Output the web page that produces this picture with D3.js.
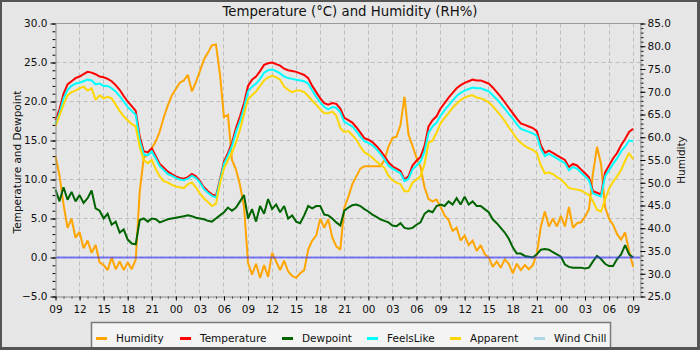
<!DOCTYPE html>
<html><head><meta charset="utf-8">
<script src="https://cdn.jsdelivr.net/npm/d3@7"></script>
<style>
html,body{margin:0;padding:0;background:#e6e6e6;}
svg{display:block;font-family:"DejaVu Sans",sans-serif;}
</style></head><body>
<svg id="chart" width="700" height="350"></svg>
<script>
// ---- data (readings every 30 minutes from 09:00) ----
const startTime = new Date(2024, 0, 1, 9, 0, 0);
const stepMinutes = 30;
const titleText = "Temperature (\u00B0C) and Humidity (RH%)";
const leftAxisTitle = "Temperature and Dewpoint";
const rightAxisTitle = "Humidity";
const seriesNames = ["Humidity", "Temperature", "Dewpoint", "FeelsLike", "Apparent", "Wind Chill"];
const tempTicks = [-5, 0, 5, 10, 15, 20, 25, 30];
const humTicks = [25, 30, 35, 40, 45, 50, 55, 60, 65, 70, 75, 80, 85];

const humidity = [
 55.9,51.6,45.2,40.1,42.1,37.9,39.2,35.6,37.3,34.6,
 36.3,32.5,31.9,30.8,33.6,31.0,32.7,30.8,32.5,31.0,
 33.1,48.1,55.5,56.2,57.6,59.1,61.3,64.4,67.0,69.2,
 70.6,72.0,72.5,73.7,70.1,72.1,74.5,77.1,78.6,80.2,
 80.4,73.9,64.4,64.9,55.0,52.9,49.5,44.7,32.4,29.8,
 32.2,29.1,31.9,29.3,34.6,32.7,30.8,32.9,30.5,29.5,
 29.1,30.1,30.8,35.3,37.3,38.4,42.1,40.1,42.0,38.0,
 36.0,35.3,44.5,46.9,49.7,51.4,53.1,53.6,53.6,53.6,
 53.6,53.6,55.0,57.9,59.8,60.1,62.7,68.9,60.6,58.1,
 55.5,53.5,49.0,46.4,45.9,46.3,44.7,42.8,41.8,39.4,
 40.1,37.3,38.4,36.3,37.3,35.0,36.3,34.3,33.6,31.5,
 32.7,31.3,33.2,32.2,30.1,32.2,30.8,31.9,31.0,31.9,
 34.4,40.4,43.7,40.4,42.1,40.4,42.7,40.4,44.7,40.1,
 41.1,41.3,42.5,44.2,52.1,57.9,54.1,44.7,42.1,40.8,
 38.7,37.5,39.1,35.0,31.5];

const temperature = [
 17.6,19.0,21.0,22.2,22.6,23.0,23.2,23.5,23.8,23.7,
 23.5,23.2,23.1,22.9,22.6,22.1,21.5,20.7,20.0,19.4,
 18.8,15.5,13.6,13.5,14.0,13.0,12.0,11.5,11.0,10.7,
 10.4,10.2,10.1,10.3,10.7,10.4,9.8,9.0,8.5,8.1,
 7.9,10.0,12.3,13.4,14.7,16.6,18.1,19.8,22.0,22.8,
 23.2,23.9,24.7,24.9,25.0,24.8,24.6,24.2,24.0,23.9,
 23.8,23.6,23.4,23.0,22.0,21.2,20.4,19.8,19.6,19.8,
 19.7,19.1,17.9,17.6,17.3,16.7,16.0,15.3,15.1,14.8,
 14.3,13.7,13.0,12.2,11.7,11.4,11.1,10.0,10.4,11.8,
 12.4,12.9,14.3,16.8,17.6,18.1,19.1,19.8,20.5,21.1,
 21.7,22.1,22.4,22.6,22.8,22.7,22.7,22.5,22.3,21.8,
 21.2,20.6,19.9,19.2,18.5,17.8,17.2,17.0,16.8,16.6,
 16.2,14.4,13.4,13.7,13.4,13.1,12.8,12.5,11.6,12.0,
 11.8,11.3,10.8,10.3,8.5,8.3,8.1,10.9,11.8,12.7,
 13.4,14.4,15.2,16.1,16.5];

const dewpoint = [
 8.7,7.2,9.0,7.4,8.4,7.2,8.0,7.0,7.6,8.6,
 6.3,6.0,5.0,5.6,4.2,4.6,3.2,3.6,2.3,1.8,
 1.7,4.8,5.0,4.6,5.0,4.9,4.5,4.7,4.9,5.0,
 5.1,5.2,5.3,5.4,5.3,5.1,5.0,4.9,4.7,4.6,
 5.0,5.4,5.8,6.4,6.0,6.4,7.2,8.0,5.0,6.2,
 4.6,6.6,5.6,7.5,6.2,6.8,5.8,6.6,5.0,5.4,
 4.6,4.4,5.4,6.6,6.3,6.6,6.6,5.5,5.4,5.0,
 4.5,4.1,6.0,6.4,6.7,6.8,6.6,6.2,5.9,5.5,
 5.2,4.9,4.7,4.5,4.1,4.0,4.4,3.8,3.7,3.8,
 4.2,4.5,5.6,6.0,5.8,6.6,6.8,6.6,7.2,6.8,
 7.6,6.8,7.8,6.8,7.2,6.6,6.6,6.2,5.8,4.9,
 4.4,3.8,3.2,2.4,1.3,0.5,0.5,0.2,0.1,0.0,
 0.4,1.0,1.1,1.0,0.7,0.4,0.1,-0.9,-1.2,-1.3,
 -1.3,-1.3,-1.4,-1.3,-0.5,0.2,-0.2,-0.8,-1.1,-1.1,
 -0.2,0.4,1.6,0.4,0.0];

const feelsLike = [
 17.1,18.5,20.4,21.5,22.0,22.3,22.4,22.6,22.8,22.7,
 22.2,22.3,22.0,22.0,21.7,21.3,20.7,20.0,19.3,18.8,
 18.3,15.0,13.2,13.1,13.6,12.7,11.7,11.2,10.7,10.5,
 10.2,10.0,9.9,10.1,10.5,10.2,9.6,8.8,8.3,7.9,
 7.7,9.8,12.0,13.1,14.3,16.1,17.5,19.2,21.3,21.9,
 22.3,22.9,23.7,24.0,24.1,23.9,23.6,23.2,23.0,22.9,
 22.8,22.7,22.6,22.3,21.4,20.6,19.9,19.3,19.0,19.3,
 19.2,18.6,17.4,17.1,16.8,16.2,15.5,14.9,14.7,14.4,
 13.9,13.3,12.6,11.8,11.4,11.1,10.8,9.8,10.1,11.3,
 11.8,12.3,13.6,16.0,16.8,17.3,18.2,18.9,19.5,20.1,
 20.7,21.1,21.4,21.6,21.8,21.7,21.7,21.5,21.3,20.8,
 20.3,19.7,19.1,18.4,17.8,17.1,16.5,16.3,16.1,15.9,
 15.6,13.9,13.0,13.3,13.0,12.7,12.4,12.1,11.2,11.6,
 11.4,10.9,10.4,9.9,8.2,8.0,7.8,10.4,11.2,12.0,
 12.7,13.6,14.2,15.0,14.9];

const apparent = [
 16.8,18.2,19.6,20.8,21.2,21.4,21.7,21.9,21.4,21.7,
 20.2,20.8,20.4,20.6,20.4,19.6,18.8,18.1,17.6,17.1,
 16.8,14.2,12.5,12.1,12.5,11.3,10.4,9.8,9.6,9.3,
 9.1,9.0,8.9,9.4,9.6,9.0,8.2,7.6,7.1,6.6,
 6.9,9.5,11.4,12.5,13.4,14.8,16.4,18.4,20.3,20.8,
 21.3,22.0,22.7,23.1,23.3,23.1,22.8,21.9,21.5,21.2,
 21.4,21.4,21.2,20.7,20.1,19.6,19.0,18.5,18.5,18.7,
 18.2,16.6,16.1,16.2,15.7,15.1,14.2,13.5,13.2,12.8,
 12.3,11.9,11.5,10.5,9.9,9.6,9.4,8.5,8.5,9.6,
 10.0,10.4,12.0,14.7,15.0,16.0,17.2,17.9,18.5,19.2,
 19.7,20.2,20.5,20.7,20.8,20.5,20.4,20.2,19.9,19.4,
 18.8,18.2,17.5,16.7,16.0,15.2,14.7,14.3,14.0,13.8,
 13.4,11.8,10.8,10.9,10.7,10.3,10.0,9.5,8.9,8.8,
 8.7,8.6,8.3,8.0,7.2,6.1,5.9,7.4,8.8,9.7,
 10.4,11.2,12.4,13.4,12.6];

const windChill = []; // no visible wind chill readings in the reference

// ---- drawing ----
const colors = ["#ffa500", "#ff0000", "#006400", "#00ffff", "#ffd700", "#add8e6"];
const svg = d3.select("#chart");
const W = 700, H = 350;
const L = 55.5, R = 640.5, T = 23.5, B = 296.5;

svg.append("rect").attr("width", W).attr("height", H).attr("fill", "#555");
svg.append("rect").attr("x", 2).attr("y", 2).attr("width", W - 5).attr("height", H - 5).attr("fill", "#e6e6e6");

const times = temperature.map((_, i) => new Date(+startTime + i * stepMinutes * 60000));
const endTime = new Date(+startTime + 72.92 * 3600000);
const x = d3.scaleTime().domain([startTime, endTime]).range([L, R]);
const yT = d3.scaleLinear().domain([-5, 30]).range([B, T]);
const yH = d3.scaleLinear().domain([25, 85]).range([B, T]);

// grid
const grid = svg.append("g").attr("stroke", "#bdbdbd").attr("stroke-dasharray", "4,3").attr("stroke-width", 1);
x.ticks(d3.timeHour.every(3)).forEach(t => {
  const px = Math.round(x(t) - 0.5) + 0.5;
  if (px > L + 1 && px < R - 1)
    grid.append("line").attr("x1", px).attr("x2", px).attr("y1", T).attr("y2", B);
});
tempTicks.forEach(v => {
  if (v > -5 && v < 30)
    grid.append("line").attr("x1", L).attr("x2", R).attr("y1", yT(v)).attr("y2", yT(v));
});

// series
function drawSeries(values, yScale, color) {
  const pts = values.map((v, i) => [times[i], v]);
  svg.append("path").datum(pts)
    .attr("fill", "none").attr("stroke", color).attr("stroke-width", 2)
    .attr("stroke-linejoin", "miter").attr("stroke-miterlimit", 2)
    .attr("d", d3.line().x(d => x(d[0])).y(d => yScale(d[1])).curve(d3.curveLinear));
}
drawSeries(humidity, yH, colors[0]);
drawSeries(temperature, yT, colors[1]);
drawSeries(dewpoint, yT, colors[2]);
drawSeries(feelsLike, yT, colors[3]);
drawSeries(apparent, yT, colors[4]);
if (windChill.length) drawSeries(windChill, yT, colors[5]);

// zero line
svg.append("line").attr("x1", L).attr("x2", R).attr("y1", yT(0)).attr("y2", yT(0))
  .attr("stroke", "#3333ff").attr("stroke-opacity", 0.62).attr("stroke-width", 2);

// frame top
svg.append("line").attr("x1", L).attr("x2", R).attr("y1", T).attr("y2", T).attr("stroke", "#9a9a9a");

// axes
function styleAxis(g) {
  g.select(".domain").attr("stroke", "#8a8a8a");
  g.selectAll(".tick line").attr("stroke", "#000");
  g.selectAll("text").attr("fill", "#111").style("font-size", "10.5px").style("font-family", "DejaVu Sans, sans-serif");
}
// minor ticks
svg.append("g").attr("transform", `translate(${L},0)`)
  .call(d3.axisLeft(yT).tickValues(d3.range(-5, 31, 1)).tickSize(3).tickFormat(""))
  .call(g => { g.select(".domain").remove(); g.selectAll("line").attr("stroke", "#000"); });
svg.append("g").attr("transform", `translate(${R},0)`)
  .call(d3.axisRight(yH).tickValues(d3.range(25, 86, 1)).tickSize(3).tickFormat(""))
  .call(g => { g.select(".domain").remove(); g.selectAll("line").attr("stroke", "#000"); });
svg.append("g").attr("transform", `translate(0,${B})`)
  .call(d3.axisBottom(x).ticks(d3.timeHour.every(1)).tickSize(2).tickFormat(""))
  .call(g => { g.select(".domain").remove(); g.selectAll("line").attr("stroke", "#000"); });

svg.append("g").attr("transform", `translate(${L},0)`)
  .call(d3.axisLeft(yT).tickValues(tempTicks).tickFormat(d3.format(".1f")).tickSize(5).tickSizeOuter(0).tickPadding(3))
  .call(styleAxis);
svg.append("g").attr("transform", `translate(${R},0)`)
  .call(d3.axisRight(yH).tickValues(humTicks).tickFormat(d3.format(".1f")).tickSize(5).tickSizeOuter(0).tickPadding(2))
  .call(styleAxis);
svg.append("g").attr("transform", `translate(0,${B})`)
  .call(d3.axisBottom(x).ticks(d3.timeHour.every(3)).tickFormat(d3.timeFormat("%H")).tickSize(4).tickSizeOuter(0).tickPadding(5))
  .call(styleAxis);

// titles
svg.append("text").attr("x", 350).attr("y", 15.5).attr("text-anchor", "middle")
  .style("font-size", "13.3px").attr("fill", "#111").text(titleText);
svg.append("text").attr("transform", "translate(17,162) rotate(-90)").attr("text-anchor", "middle")
  .attr("dominant-baseline", "central").style("font-size", "10.5px").attr("fill", "#111").text(leftAxisTitle);
svg.append("text").attr("transform", "translate(681,160) rotate(-90)").attr("text-anchor", "middle")
  .attr("dominant-baseline", "central").style("font-size", "10.5px").attr("fill", "#111").text(rightAxisTitle);

// legend
svg.append("rect").attr("x", 91.5).attr("y", 322.5).attr("width", 519).attr("height", 40)
  .attr("fill", "#f4f4f4").attr("stroke", "#7a7a7a").attr("stroke-width", 1.5);
const legendX = [96, 180, 282, 367, 450, 534];
seriesNames.forEach((name, i) => {
  const g = svg.append("g").attr("transform", `translate(${legendX[i]},0)`);
  g.append("line").attr("x1", 0).attr("x2", 11).attr("y1", 338.5).attr("y2", 338.5)
    .attr("stroke", colors[i]).attr("stroke-width", 3);
  g.append("text").attr("x", 20).attr("y", 341.5).style("font-size", "10.5px").attr("fill", "#111").text(name);
});
// bottom border overlaps the legend box
svg.append("rect").attr("x", 0).attr("y", H - 3).attr("width", W).attr("height", 3).attr("fill", "#555");
</script>
</body></html>
